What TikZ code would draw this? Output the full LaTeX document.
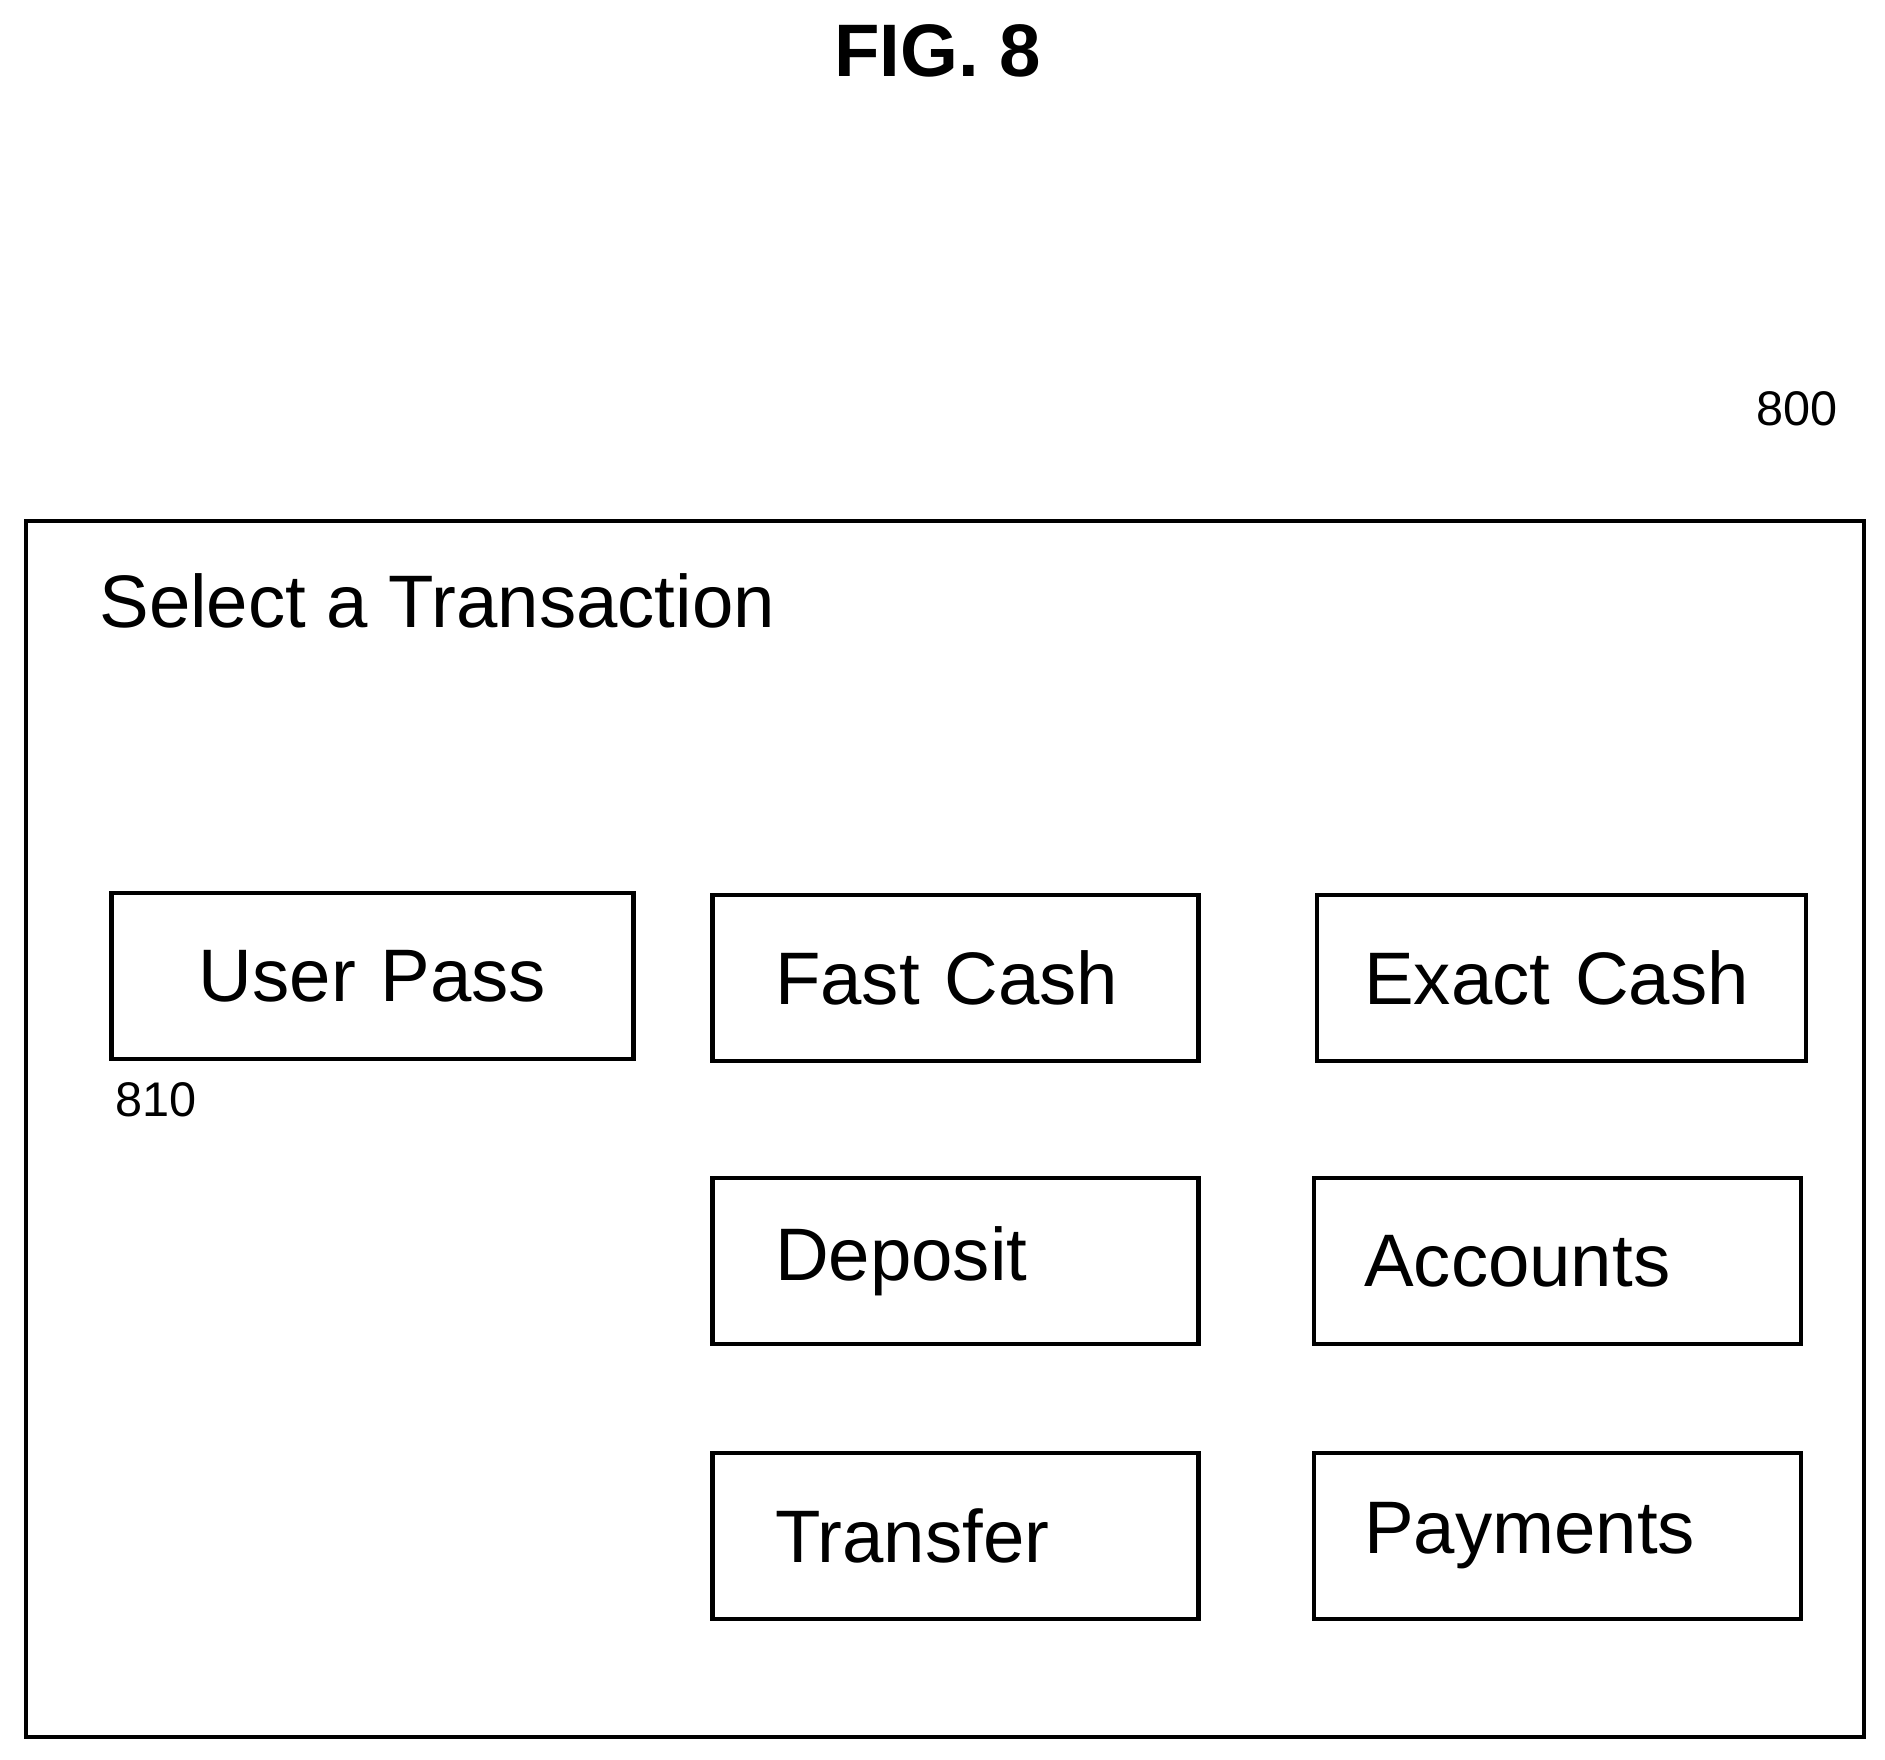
\documentclass[tikz,border=0pt]{standalone}
\usepackage{fontspec}
\setmainfont{Liberation Sans}
\usetikzlibrary{positioning}
\tikzset{
  btn/.style={draw,line width=1pt,rectangle,anchor=north west,minimum height=1.38cm,
    align=left,font=\fontsize{17.6}{21}\selectfont},
  refnum/.style={font=\fontsize{11.5}{14}\selectfont}
}
\begin{document}
\begin{tikzpicture}[x=0.01cm,y=-0.01cm]
    \useasboundingbox (0,0) rectangle (1568,1464);
    \node[font=\bfseries\fontsize{17.6}{22}\selectfont] (fig) at (780,42) {FIG. 8};
    \node[refnum] (n800) at (1495,340) {800};
    
    \node[draw,line width=0.9pt,anchor=north west,minimum width=15.28cm,minimum height=10.11cm] (screen) at (20,432) {};
    \node[anchor=west,font=\fontsize{17.6}{21}\selectfont,inner sep=0pt] (title) at (82,500) {Select a Transaction};
    
    % buttons: inner xsep gives the left inset of the text
    \node[btn,inner xsep=0.3cm,text width=3.74cm,align=center] (userpass) at (91,741) {User Pass};
    \node[refnum,anchor=north west,inner sep=0pt] (n810) at (95,900) {810};
    
    \node[btn,inner xsep=0.52cm,text width=3.0cm] (fastcash) at (591,743) {Fast Cash};
    \node[btn,inner xsep=0.39cm,text width=3.28cm] (exactcash) at (1094,743) {Exact Cash};
    \node[btn,inner xsep=0.52cm,text width=3.0cm] (deposit) at (591,978) {Deposit};
    \node[btn,inner xsep=0.42cm,text width=3.21cm] (accounts) at (1091,978) {Accounts};
    \node[btn,inner xsep=0.52cm,text width=3.0cm] (transfer) at (591,1207) {Transfer};
    \node[btn,inner xsep=0.42cm,text width=3.21cm] (payments) at (1091,1207) {Payments};
\end{tikzpicture}
\end{document}
